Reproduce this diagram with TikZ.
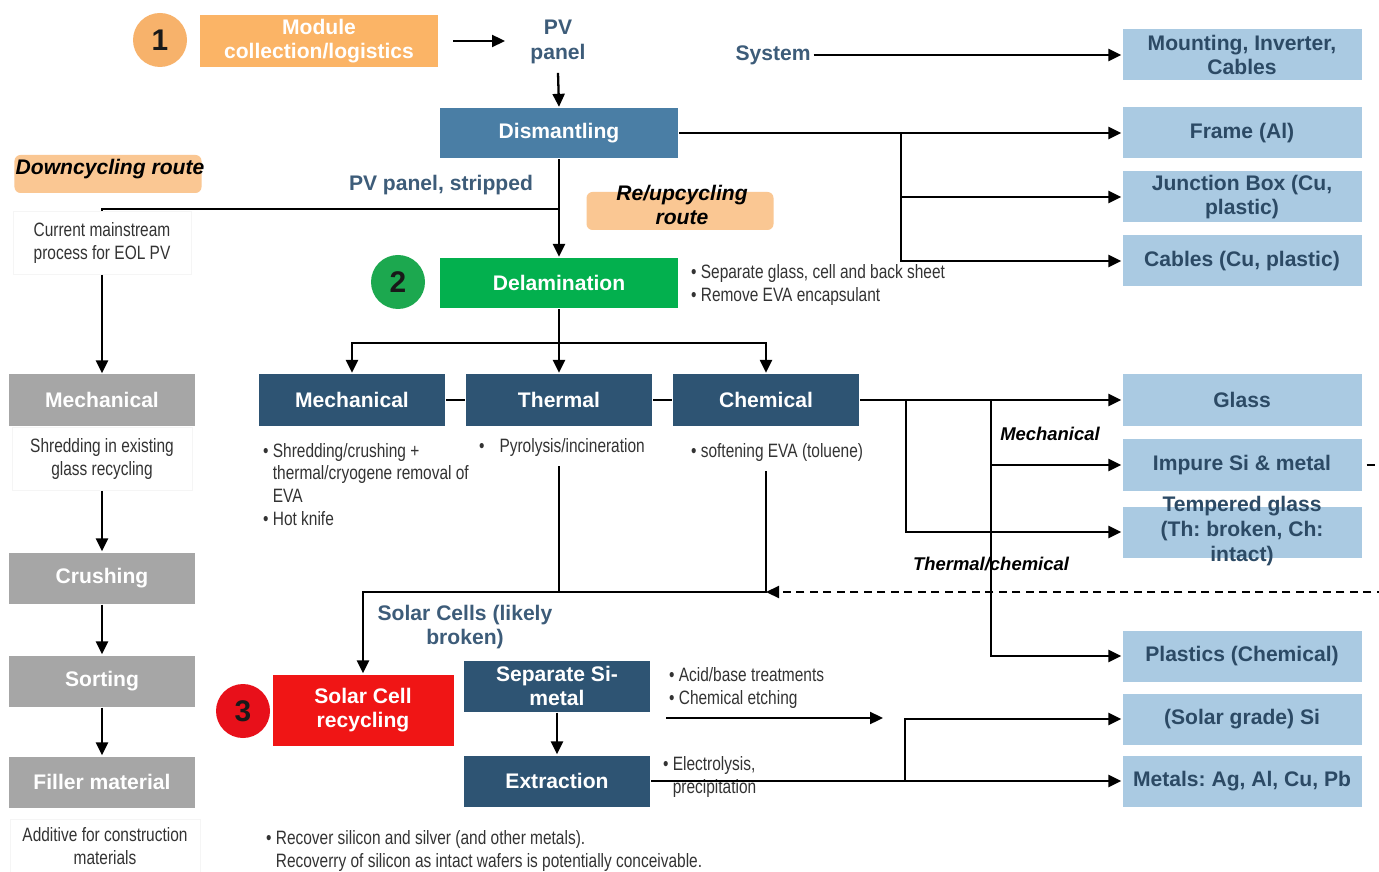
\documentclass[tikz,border=0pt]{standalone}
\usepackage{fontspec}
\setmainfont{Liberation Sans}
\newfontfamily\narrowfont{Liberation Sans}[FakeStretch=0.8]
\usepackage{tikz}
\usetikzlibrary{arrows.meta,calc}
\definecolor{orangeA}{HTML}{FBB466}
\definecolor{orangeC}{HTML}{F7B26B}
\definecolor{routefill}{HTML}{FAC793}
\definecolor{steelA}{HTML}{4A7EA5}
\definecolor{greenA}{HTML}{03B04E}
\definecolor{greenC}{HTML}{1CA84F}
\definecolor{slateA}{HTML}{2E5473}
\definecolor{greyA}{HTML}{A6A6A6}
\definecolor{lightA}{HTML}{AACAE2}
\definecolor{darkA}{HTML}{2C4A65}
\definecolor{labelA}{HTML}{3D5C79}
\definecolor{redA}{HTML}{F01515}
\definecolor{redC}{HTML}{E8101A}
\newcommand{\boldtext}{\frenchspacing\fontsize{12}{14}\selectfont\bfseries}
\newcommand{\notetext}{\frenchspacing\narrowfont\fontsize{11}{13}\selectfont}

\begin{document}
\begin{tikzpicture}[x=0.2mm, y=-0.2mm, line width=1.3pt, >={Triangle[length=2.6mm,width=2.4mm]},
	box/.style={rectangle, inner sep=0pt, align=center, text=white, font=\boldtext},
	orangebox/.style={box, fill=orangeA, minimum width=47.6mm, minimum height=10.4mm},
	bluebox/.style={box, fill=steelA, minimum width=47.6mm, minimum height=10mm},
	greenbox/.style={box, fill=greenA, minimum width=47.6mm, minimum height=10mm},
	slatebox/.style={box, fill=slateA, minimum width=37.2mm, minimum height=10.4mm},
	greybox/.style={box, fill=greyA, minimum width=37.2mm, minimum height=10.2mm},
	redbox/.style={box, fill=redA, minimum width=36.2mm, minimum height=14.2mm},
	outbox/.style={box, fill=lightA, text=darkA, minimum width=47.8mm, minimum height=10.2mm},
	numdot/.style={circle, inner sep=0pt, minimum size=10.8mm, text=black!90, font=\fontsize{17}{17}\selectfont\bfseries},
	routebox/.style={rounded corners=1.2mm, fill=routefill, minimum width=37.4mm, minimum height=7.6mm},
	routetext/.style={align=center, inner sep=0pt, font=\boldtext\itshape},
	tag/.style={align=center, inner sep=0pt, text=labelA, font=\boldtext},
	note/.style={align=left, inner sep=0pt, text=black!80, font=\notetext},
	memo/.style={align=center, inner sep=0pt, draw=black!4, line width=0.4pt, text=black!80, font=\notetext},
	branch/.style={inner sep=0pt, font=\fontsize{10.5}{12}\selectfont\bfseries\itshape},
	dashline/.style={dash pattern=on 1.6mm off 1.1mm}]
	%%Location
	\useasboundingbox (0,0) rectangle (1379,872);
	\fill[white] (0,0) rectangle (1379,872);
	
	%%Stage 1: collection and dismantling
	\node[numdot, fill=orangeC] (one) at (160,40) {1};
	\node[orangebox] (collect) at (319,41) {Module\\collection/logistics};
	\node[tag] (pv) at (558,42) {PV\\panel};
	\node[tag] (system) at (773,55) {System};
	\node[outbox] (mount) at (1242,55) {Mounting, Inverter,\\Cables};
	\node[bluebox] (dismantle) at (559,133) {Dismantling};
	\node[outbox] (frame) at (1242,133) {Frame (Al)};
	\node[outbox] (jbox) at (1242,197) {Junction Box (Cu,\\plastic)};
	\node[outbox] (cables) at (1242,261) {Cables (Cu, plastic)};
	\coordinate (pvin) at (505,41);
	\coordinate (fork1) at (901,133);
	\draw[->] ($(collect.east)+(14,0)$) -- (pvin);
	\draw[->] ($(pv.south)+(0,8)$) -- (dismantle.north);
	\draw[->] (system.east) ++(2,0) -- (mount.west);
	\draw[->] (dismantle.east) -- (frame.west);
	\draw[->] (fork1) |- (jbox.west);
	\draw[->] (fork1) |- (cables.west);
	
	%%Routes
	\node[routebox] (downbox) at (108,174) {};
	\node[routetext] (down) at (110,169) {Downcycling route};
	\node[tag] (stripped) at (441,185) {PV panel, stripped};
	\node[routebox] (upbox) at (680,211) {};
	\node[routetext] (up) at (682,205) {Re/upcycling\\route};
	\node[memo, minimum width=35.6mm, minimum height=12.6mm] (mainstream) at (102,243) {Current mainstream\\process for EOL PV};
	
	%%Stage 2: delamination
	\node[numdot, fill=greenC] (two) at (398,282) {2};
	\node[greenbox] (delam) at (559,283) {Delamination};
	\node[note, anchor=west] (delamnote) at (690,285) {• Separate glass, cell and back sheet\\• Remove EVA encapsulant};
	\coordinate (fork0) at (559,209);
	\draw[->] (dismantle.south) -- (delam.north);
	\draw (fork0) -| (mainstream.north);
	
	\node[slatebox] (mech) at (352,400) {Mechanical};
	\node[slatebox] (therm) at (559,400) {Thermal};
	\node[slatebox] (chem) at (766,400) {Chemical};
	\node[note, anchor=north west] (mechnote) at (262,442) {• Shredding/crushing +\\\phantom{• }thermal/cryogene removal of\\\phantom{• }EVA\\• Hot knife};
	\node[note, anchor=north west] (thermnote) at (478,437) {•\hspace{3mm}Pyrolysis/incineration};
	\node[note, anchor=north west] (chemnote) at (690,442) {• softening EVA (toluene)};
	\coordinate (fork2) at (559,343);
	\draw (delam.south) -- (fork2);
	\draw[->] (fork2) -| (mech.north);
	\draw[->] (fork2) -- (therm.north);
	\draw[->] (fork2) -| (chem.north);
	\draw (mech) -- (therm);
	\draw (therm) -- (chem);
	
	%%Outputs of delamination
	\node[outbox] (glass) at (1242,400) {Glass};
	\node[outbox] (impure) at (1242,465) {Impure Si \& metal};
	\node[outbox] (tempered) at (1242,532) {};
	\node[tag, text=darkA] (temperedtxt) at (1242,531) {Tempered glass\\(Th: broken, Ch:\\intact)};
	\node[outbox] (plastics) at (1242,656) {Plastics (Chemical)};
	\node[branch] (mechlbl) at (1050,434) {Mechanical};
	\node[branch] (thchlbl) at (991,564) {Thermal/chemical};
	\coordinate (fork3) at (906,400);
	\coordinate (fork4) at (991,400);
	\draw[->] (chem.east) -- (glass.west);
	\draw[->] (fork3) |- (tempered.west);
	\draw[->] (fork4) |- (impure.west);
	\draw[->] (fork4) |- (plastics.west);
	
	%%Stage 3: solar cell recycling
	\node[tag] (cells) at (465,627) {Solar Cells (likely\\broken)};
	\node[numdot, fill=redC] (three) at (243,711) {3};
	\node[redbox] (solar) at (363,710) {Solar Cell\\recycling};
	\node[slatebox, minimum height=10.2mm] (separate) at (557,686) {Separate Si-\\metal};
	\node[slatebox, minimum height=10.2mm] (extract) at (557,781) {Extraction};
	\node[note, anchor=west] (acidnote) at (668,688) {• Acid/base treatments\\• Chemical etching};
	\node[note, anchor=west] (elecnote) at (662,777) {• Electrolysis,\\\phantom{• }precipitation};
	\node[outbox] (solarsi) at (1242,719) {(Solar grade) Si};
	\node[outbox] (metals) at (1242,781) {Metals: Ag, Al, Cu, Pb};
	\node[note, anchor=north west] (recover) at (265,829) {• Recover silicon and silver (and other metals).\\\phantom{• }Recoverry of silicon as intact wafers is potentially conceivable.};
	\coordinate (thermout) at (559,466);
	\coordinate (chemout) at (766,471);
	\coordinate (thermjoin) at (559,592);
	\coordinate (chemjoin) at (766,592);
	\coordinate (offpage) at (1400,465);
	\coordinate (acidstart) at (666,718);
	\coordinate (acidend) at (883,718);
	\coordinate (fork5) at (905,781);
	\draw (thermout) -- (thermjoin);
	\draw[->] (chemout) -- (chemjoin) -| (solar.north);
	\draw[->, dashline] ($(impure.east)+(4,0)$) -- (offpage) |- (chemjoin);
	\draw[->] (separate) -- (extract);
	\draw[->] (acidstart) -- (acidend);
	\draw[->] (extract.east) -- (metals.west);
	\draw[->] (fork5) |- (solarsi.west);
	
	%%Downcycling column
	\node[greybox] (gmech) at (102,400) {Mechanical};
	\node[memo, minimum width=36mm, minimum height=12.6mm] (shred) at (102,459) {Shredding in existing\\glass recycling};
	\node[greybox] (crush) at (102,578) {Crushing};
	\node[greybox] (sort) at (102,681) {Sorting};
	\node[greybox] (filler) at (102,782) {Filler material};
	\node[memo, minimum width=38mm, minimum height=10.6mm] (additive) at (105,846) {Additive for construction\\materials};
	\draw[->] (mainstream.south) -- (gmech.north);
	\draw[->] (shred.south) -- (crush.north);
	\draw[->] (crush) -- (sort);
	\draw[->] (sort) -- (filler);
\end{tikzpicture}
\end{document}
